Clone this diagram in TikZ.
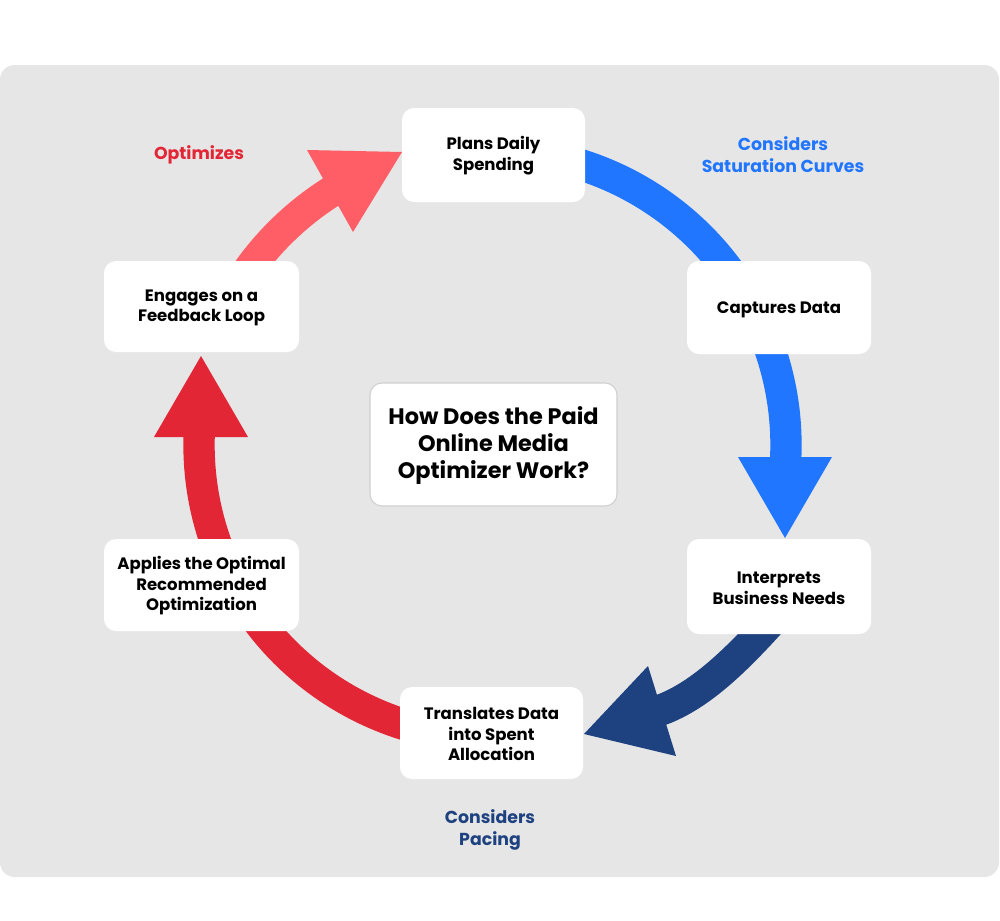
\documentclass[tikz,border=0pt]{standalone}
\usepackage{fontspec}
\setmainfont{Poppins}
\definecolor{bggray}{HTML}{E6E6E6}
\definecolor{lblue}{HTML}{2176FF}
\definecolor{dblue}{HTML}{1E4280}
\definecolor{pinkc}{HTML}{FF5E66}
\definecolor{cred}{HTML}{E22636}
\definecolor{boxline}{HTML}{CFCFCF}
\newcommand{\topone}{\rule{0pt}{12.6pt}}
\newcommand{\topmulti}{\rule{0pt}{11.1pt}}
\newcommand{\toptitle}{\rule{0pt}{15.5pt}}
\begin{document}
\begin{tikzpicture}[x=0.75pt,y=-0.75pt,
  box/.style={fill=white, rounded corners=9pt, inner sep=0pt, align=center,
    font=\bfseries\fontsize{12.4}{15.4}\selectfont},
  shaft/.style={line width=23.5pt},
  lbl/.style={align=center, font=\bfseries\fontsize{13}{16.5}\selectfont}]
\useasboundingbox (0,0) rectangle (1000,921);
\fill[bggray, rounded corners=11pt] (0,65) rectangle (999,877);
% arrows
\draw[shaft, lblue] plot[domain=-95:3, samples=90] ({492+294*cos(\x)},{445+294*sin(\x)});
\fill[lblue] (738,457) -- (832,457) -- (785,538) -- cycle;
\draw[shaft, dblue] (777,615) .. controls (740,656) and (700,698) .. (655,712);
\fill[dblue] (648,666) -- (676,756) -- (584,734) -- cycle;
\draw[shaft, cred] plot[domain=100:182, samples=90] ({492+293*cos(\x)},{445+293*sin(\x)});
\fill[cred] (154,437) -- (248,437) -- (201,356) -- cycle;
\draw[shaft, pinkc] plot[domain=212:238.5, samples=40] ({492+300*cos(\x)},{445+300*sin(\x)});
\fill[pinkc] (307,150) -- (353,232) -- (402,152) -- cycle;
% boxes
\node[box, minimum width=137.25pt, minimum height=70.5pt] (plans) at (493.5,155) {\topmulti Plans Daily\\Spending};
\node[box, minimum width=138pt, minimum height=69.75pt] (captures) at (779,307.5) {\topone Captures Data};
\node[box, minimum width=138pt, minimum height=71.25pt] (interprets) at (779,586.5) {\topmulti Interprets\\Business Needs};
\node[box, minimum width=137.25pt, minimum height=69pt] (translates) at (491.5,733) {\topmulti Translates Data\\into Spent\\Allocation};
\node[box, minimum width=146.25pt, minimum height=69pt] (applies) at (201.5,585) {\topmulti Applies the Optimal\\Recommended\\Optimization};
\node[box, minimum width=146.25pt, minimum height=68.25pt] (engages) at (201.5,306.5) {\topmulti Engages on a\\Feedback Loop};
\node[box, draw=boxline, line width=0.8pt, minimum width=185.25pt, minimum height=92.25pt,
  font=\bfseries\fontsize{16.8}{20.3}\selectfont] (title) at (493.5,444.5) {\toptitle How Does the Paid\\Online Media\\Optimizer Work?};
% labels
\node[lbl, text=lblue] (satur) at (783,155) {Considers\\Saturation Curves};
\node[lbl, text=cred] (optim) at (199,155) {Optimizes};
\node[lbl, text=dblue] (pacing) at (490,830) {Considers\\Pacing};
\end{tikzpicture}
\end{document}
